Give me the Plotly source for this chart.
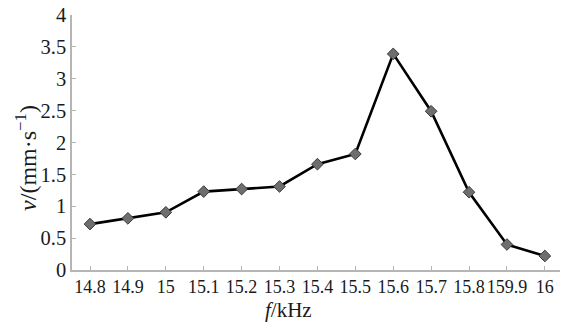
import plotly.graph_objects as go

# Frequency labels (as printed on the axis) and measured vibration velocity
freq_labels = ["14.8", "14.9", "15", "15.1", "15.2", "15.3", "15.4",
               "15.5", "15.6", "15.7", "15.8", "159.9", "16"]
velocity = [0.72, 0.81, 0.905, 1.23, 1.27, 1.31, 1.66,
            1.82, 3.39, 2.49, 1.22, 0.40, 0.22]
y_ticks = [0, 0.5, 1, 1.5, 2, 2.5, 3, 3.5, 4]
y_tick_text = ["0", "0.5", "1", "1.5", "2", "2.5", "3", "3.5", "4"]

font_family = "'Liberation Serif', 'Times New Roman', serif"
axis_grey = "#b5b5b5"
text_color = "#1a1a1a"

fig = go.Figure()
fig.add_trace(go.Scatter(
    x=list(range(len(freq_labels))),
    y=velocity,
    mode="lines+markers",
    line=dict(color="black", width=2.6),
    marker=dict(symbol="diamond", size=9, color="#6e6e6e",
                line=dict(color="#3a3a3a", width=1)),
    showlegend=False,
))

fig.update_layout(
    width=562, height=325,
    margin=dict(l=72, r=2, t=15, b=55),
    paper_bgcolor="white", plot_bgcolor="white",
    font=dict(family=font_family, size=20, color=text_color),
    xaxis=dict(
        range=[-0.475, 12.4],
        tickvals=list(range(len(freq_labels))),
        ticktext=freq_labels,
        tickangle=0,
        showgrid=False, zeroline=False,
        showline=True, linecolor=axis_grey, linewidth=1.5,
        ticks="inside", ticklen=4, tickcolor=axis_grey,
        tickfont=dict(family=font_family, size=18),
    ),
    yaxis=dict(
        range=[0, 4],
        tickvals=y_ticks,
        ticktext=y_tick_text,
        showgrid=False, zeroline=False,
        showline=True, linecolor=axis_grey, linewidth=1.5,
        ticks="inside", ticklen=4, tickcolor=axis_grey,
        tickfont=dict(family=font_family, size=20.5),
    ),
)

# Axis titles
fig.add_annotation(
    text="<i>f</i>/kHz", xref="paper", yref="paper",
    x=0.443, y=-0.157, xanchor="center", yanchor="middle",
    showarrow=False, font=dict(family=font_family, size=21, color=text_color),
)
fig.add_annotation(
    text="<i>v</i>/(mm·s<sup>−1</sup>)", xref="paper", yref="paper",
    x=-0.094, y=0.44, xanchor="center", yanchor="middle", textangle=-90,
    showarrow=False, font=dict(family=font_family, size=24, color=text_color),
)

fig.write_html("out.html")
